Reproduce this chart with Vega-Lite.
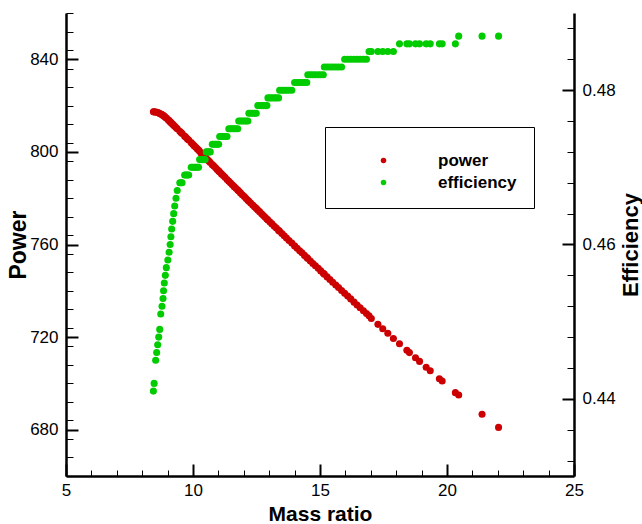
{
  "$schema": "https://vega.github.io/schema/vega-lite/v6.json",
  "width": 508,
  "height": 463,
  "autosize": {"type": "none"},
  "padding": {"left": 66, "top": 13, "right": 68, "bottom": 48},
  "config": {
    "view": {"stroke": null},
    "font": "Liberation Sans",
    "axis": {
      "grid": false,
      "domainColor": "black",
      "domainWidth": 2.5,
      "tickColor": "black",
      "labelColor": "black",
      "labelFontSize": 17,
      "labelFont": "Liberation Sans",
      "titleFont": "Liberation Sans",
      "titleColor": "black",
      "titleFontWeight": "bold",
      "labelFlush": false,
      "labelOverlap": false
    }
  },
  "data": {
    "values": [
      {"m": 8.44, "p": 817.3, "e": 0.441},
      {"m": 8.47, "p": 817.3, "e": 0.442},
      {"m": 8.53, "p": 817.2, "e": 0.445},
      {"m": 8.57, "p": 817.1, "e": 0.446},
      {"m": 8.61, "p": 817.0, "e": 0.447},
      {"m": 8.65, "p": 816.8, "e": 0.448},
      {"m": 8.69, "p": 816.6, "e": 0.449},
      {"m": 8.73, "p": 816.4, "e": 0.451},
      {"m": 8.78, "p": 816.1, "e": 0.452},
      {"m": 8.82, "p": 815.8, "e": 0.453},
      {"m": 8.84, "p": 815.6, "e": 0.454},
      {"m": 8.87, "p": 815.4, "e": 0.455},
      {"m": 8.91, "p": 815.0, "e": 0.456},
      {"m": 8.95, "p": 814.6, "e": 0.457},
      {"m": 9.01, "p": 814.0, "e": 0.458},
      {"m": 9.06, "p": 813.5, "e": 0.459},
      {"m": 9.10, "p": 813.0, "e": 0.460},
      {"m": 9.13, "p": 812.7, "e": 0.461},
      {"m": 9.16, "p": 812.4, "e": 0.462},
      {"m": 9.20, "p": 811.9, "e": 0.463},
      {"m": 9.24, "p": 811.5, "e": 0.464},
      {"m": 9.28, "p": 811.1, "e": 0.465},
      {"m": 9.33, "p": 810.5, "e": 0.466},
      {"m": 9.38, "p": 810.0, "e": 0.467},
      {"m": 9.48, "p": 808.9, "e": 0.468},
      {"m": 9.53, "p": 808.4, "e": 0.468},
      {"m": 9.57, "p": 807.9, "e": 0.468},
      {"m": 9.67, "p": 806.8, "e": 0.469},
      {"m": 9.72, "p": 806.3, "e": 0.469},
      {"m": 9.78, "p": 805.6, "e": 0.469},
      {"m": 9.83, "p": 805.1, "e": 0.469},
      {"m": 9.93, "p": 804.0, "e": 0.470},
      {"m": 9.99, "p": 803.3, "e": 0.470},
      {"m": 10.05, "p": 802.6, "e": 0.470},
      {"m": 10.11, "p": 802.0, "e": 0.470},
      {"m": 10.17, "p": 801.3, "e": 0.470},
      {"m": 10.22, "p": 800.8, "e": 0.470},
      {"m": 10.26, "p": 800.3, "e": 0.471},
      {"m": 10.32, "p": 799.4, "e": 0.471},
      {"m": 10.37, "p": 798.9, "e": 0.471},
      {"m": 10.43, "p": 798.2, "e": 0.471},
      {"m": 10.48, "p": 797.6, "e": 0.471},
      {"m": 10.52, "p": 797.2, "e": 0.472},
      {"m": 10.58, "p": 796.5, "e": 0.472},
      {"m": 10.63, "p": 796.0, "e": 0.472},
      {"m": 10.68, "p": 795.4, "e": 0.472},
      {"m": 10.76, "p": 794.5, "e": 0.473},
      {"m": 10.82, "p": 793.9, "e": 0.473},
      {"m": 10.89, "p": 793.1, "e": 0.473},
      {"m": 10.95, "p": 792.4, "e": 0.473},
      {"m": 11.01, "p": 791.8, "e": 0.473},
      {"m": 11.05, "p": 791.3, "e": 0.474},
      {"m": 11.12, "p": 790.5, "e": 0.474},
      {"m": 11.19, "p": 789.8, "e": 0.474},
      {"m": 11.26, "p": 789.0, "e": 0.474},
      {"m": 11.34, "p": 788.1, "e": 0.474},
      {"m": 11.41, "p": 787.3, "e": 0.475},
      {"m": 11.48, "p": 786.6, "e": 0.475},
      {"m": 11.55, "p": 785.8, "e": 0.475},
      {"m": 11.62, "p": 785.0, "e": 0.475},
      {"m": 11.69, "p": 784.3, "e": 0.475},
      {"m": 11.76, "p": 783.5, "e": 0.475},
      {"m": 11.80, "p": 783.1, "e": 0.476},
      {"m": 11.87, "p": 782.3, "e": 0.476},
      {"m": 11.94, "p": 781.5, "e": 0.476},
      {"m": 12.02, "p": 780.7, "e": 0.476},
      {"m": 12.09, "p": 779.9, "e": 0.476},
      {"m": 12.16, "p": 779.1, "e": 0.476},
      {"m": 12.20, "p": 778.7, "e": 0.477},
      {"m": 12.27, "p": 777.9, "e": 0.477},
      {"m": 12.35, "p": 777.1, "e": 0.477},
      {"m": 12.42, "p": 776.3, "e": 0.477},
      {"m": 12.49, "p": 775.6, "e": 0.477},
      {"m": 12.55, "p": 774.9, "e": 0.478},
      {"m": 12.62, "p": 774.2, "e": 0.478},
      {"m": 12.70, "p": 773.3, "e": 0.478},
      {"m": 12.77, "p": 772.5, "e": 0.478},
      {"m": 12.84, "p": 771.8, "e": 0.478},
      {"m": 12.91, "p": 771.0, "e": 0.478},
      {"m": 12.95, "p": 770.6, "e": 0.479},
      {"m": 13.03, "p": 769.7, "e": 0.479},
      {"m": 13.11, "p": 768.9, "e": 0.479},
      {"m": 13.20, "p": 767.9, "e": 0.479},
      {"m": 13.28, "p": 767.1, "e": 0.479},
      {"m": 13.37, "p": 766.1, "e": 0.479},
      {"m": 13.41, "p": 765.7, "e": 0.480},
      {"m": 13.50, "p": 764.7, "e": 0.480},
      {"m": 13.59, "p": 763.8, "e": 0.480},
      {"m": 13.68, "p": 762.8, "e": 0.480},
      {"m": 13.78, "p": 761.7, "e": 0.480},
      {"m": 13.89, "p": 760.6, "e": 0.480},
      {"m": 14.00, "p": 759.4, "e": 0.481},
      {"m": 14.10, "p": 758.4, "e": 0.481},
      {"m": 14.20, "p": 757.3, "e": 0.481},
      {"m": 14.29, "p": 756.4, "e": 0.481},
      {"m": 14.39, "p": 755.3, "e": 0.481},
      {"m": 14.48, "p": 754.4, "e": 0.481},
      {"m": 14.52, "p": 753.9, "e": 0.482},
      {"m": 14.62, "p": 752.9, "e": 0.482},
      {"m": 14.72, "p": 751.8, "e": 0.482},
      {"m": 14.82, "p": 750.8, "e": 0.482},
      {"m": 14.93, "p": 749.7, "e": 0.482},
      {"m": 15.03, "p": 748.6, "e": 0.482},
      {"m": 15.13, "p": 747.6, "e": 0.482},
      {"m": 15.17, "p": 747.2, "e": 0.483},
      {"m": 15.28, "p": 746.0, "e": 0.483},
      {"m": 15.39, "p": 744.9, "e": 0.483},
      {"m": 15.50, "p": 743.7, "e": 0.483},
      {"m": 15.62, "p": 742.5, "e": 0.483},
      {"m": 15.73, "p": 741.4, "e": 0.483},
      {"m": 15.85, "p": 740.1, "e": 0.483},
      {"m": 15.97, "p": 738.9, "e": 0.484},
      {"m": 16.09, "p": 737.7, "e": 0.484},
      {"m": 16.21, "p": 736.5, "e": 0.484},
      {"m": 16.34, "p": 735.1, "e": 0.484},
      {"m": 16.46, "p": 733.9, "e": 0.484},
      {"m": 16.58, "p": 732.7, "e": 0.484},
      {"m": 16.71, "p": 731.4, "e": 0.484},
      {"m": 16.83, "p": 730.2, "e": 0.484},
      {"m": 16.93, "p": 729.2, "e": 0.485},
      {"m": 17.02, "p": 728.0, "e": 0.485},
      {"m": 17.28, "p": 725.5, "e": 0.485},
      {"m": 17.47, "p": 723.6, "e": 0.485},
      {"m": 17.67, "p": 721.7, "e": 0.485},
      {"m": 17.89, "p": 719.4, "e": 0.485},
      {"m": 18.13, "p": 717.1, "e": 0.486},
      {"m": 18.42, "p": 714.3, "e": 0.486},
      {"m": 18.52, "p": 713.3, "e": 0.486},
      {"m": 18.76, "p": 711.1, "e": 0.486},
      {"m": 18.92, "p": 709.5, "e": 0.486},
      {"m": 19.18, "p": 707.0, "e": 0.486},
      {"m": 19.34, "p": 705.5, "e": 0.486},
      {"m": 19.70, "p": 702.0, "e": 0.486},
      {"m": 19.81, "p": 701.0, "e": 0.486},
      {"m": 20.33, "p": 696.0, "e": 0.486},
      {"m": 20.46, "p": 695.0, "e": 0.487},
      {"m": 21.38, "p": 686.7, "e": 0.487},
      {"m": 22.03, "p": 681.0, "e": 0.487}
    ]
  },
  "encoding": {
    "x": {
      "field": "m",
      "type": "quantitative",
      "scale": {"domain": [5, 25], "nice": false, "zero": false},
      "axis": {
        "title": "Mass ratio",
        "titleFontSize": 21,
        "titleBaseline": "alphabetic",
        "titleY": 44,
        "values": [5,10,15,20,25,6,7,8,9,11,12,13,14,16,17,18,19,21,22,23,24],
        "format": "d",
        "labelOverlap": false,
        "labelExpr": "datum.value % 5 === 0 ? format(datum.value, 'd') : ''",
        "tickSize": {"condition": {"test": "datum.value % 5 === 0", "value": -12}, "value": -6},
        "tickWidth": {"condition": {"test": "datum.value % 5 === 0", "value": 2}, "value": 1},
        "labelPadding": 18
      }
    }
  },
  "layer": [
    {
      "mark": {"type": "circle", "size": 50, "opacity": 1},
      "encoding": {
        "y": {
          "field": "p",
          "type": "quantitative",
          "scale": {"domain": [660, 860], "nice": false, "zero": false},
          "axis": {
            "orient": "left",
            "title": "Power",
            "titleFontSize": 23,
            "titleAngle": -90,
            "titleBaseline": "alphabetic",
            "titleX": -41,
            "values": [660,668,676,684,692,700,708,716,724,732,740,748,756,764,772,780,788,796,804,812,820,828,836,844,852,860,680,720,760,800,840],
            "format": "d",
            "labelOverlap": false,
            "labelExpr": "datum.value % 40 === 0 ? datum.label : ''",
            "tickSize": {"condition": {"test": "datum.value % 40 === 0", "value": -12}, "value": -7},
            "tickWidth": {"condition": {"test": "datum.value % 40 === 0", "value": 2}, "value": 1},
            "labelPadding": 20
          }
        },
        "color": {
          "datum": "power",
          "type": "nominal",
          "scale": {"domain": ["power", "efficiency"], "range": ["#cc0000", "#00cc00"]},
          "legend": {
            "orient": "none",
            "legendX": 259,
            "legendY": 114,
            "title": " ",
            "titleFontSize": 6,
            "titlePadding": 2,
            "padding": 17,
            "strokeColor": "black",
            "fillColor": "white",
            "symbolType": "circle",
            "symbolSize": 30,
            "symbolStrokeWidth": 0,
            "symbolOffset": 33,
            "labelOffset": 46,
            "labelFontSize": 17,
            "labelFontWeight": "bold",
            "labelColor": "black",
            "labelFont": "Liberation Sans",
            "rowPadding": 4
          }
        }
      }
    },
    {
      "mark": {"type": "circle", "size": 50, "opacity": 1},
      "encoding": {
        "y": {
          "field": "e",
          "type": "quantitative",
          "scale": {"domain": [0.43, 0.49], "nice": false, "zero": false},
          "axis": {
            "orient": "right",
            "title": "Efficiency",
            "titleFontSize": 22,
            "titleAngle": -90,
            "titleBaseline": "alphabetic",
            "titleX": 63,
            "values": [0.432,0.436,0.44,0.444,0.448,0.452,0.456,0.46,0.464,0.468,0.472,0.476,0.48,0.484,0.488],
            "format": ".2f",
            "labelOverlap": false,
            "labelExpr": "abs(datum.value*50 - round(datum.value*50)) < 0.000001 ? datum.label : ''",
            "tickSize": {"condition": {"test": "abs(datum.value*50 - round(datum.value*50)) < 0.000001", "value": -12}, "value": -7},
            "tickWidth": {"condition": {"test": "abs(datum.value*50 - round(datum.value*50)) < 0.000001", "value": 2}, "value": 1},
            "labelPadding": 20
          }
        },
        "color": {"datum": "efficiency", "type": "nominal"}
      }
    }
  ],
  "resolve": {"scale": {"y": "independent"}}
}
